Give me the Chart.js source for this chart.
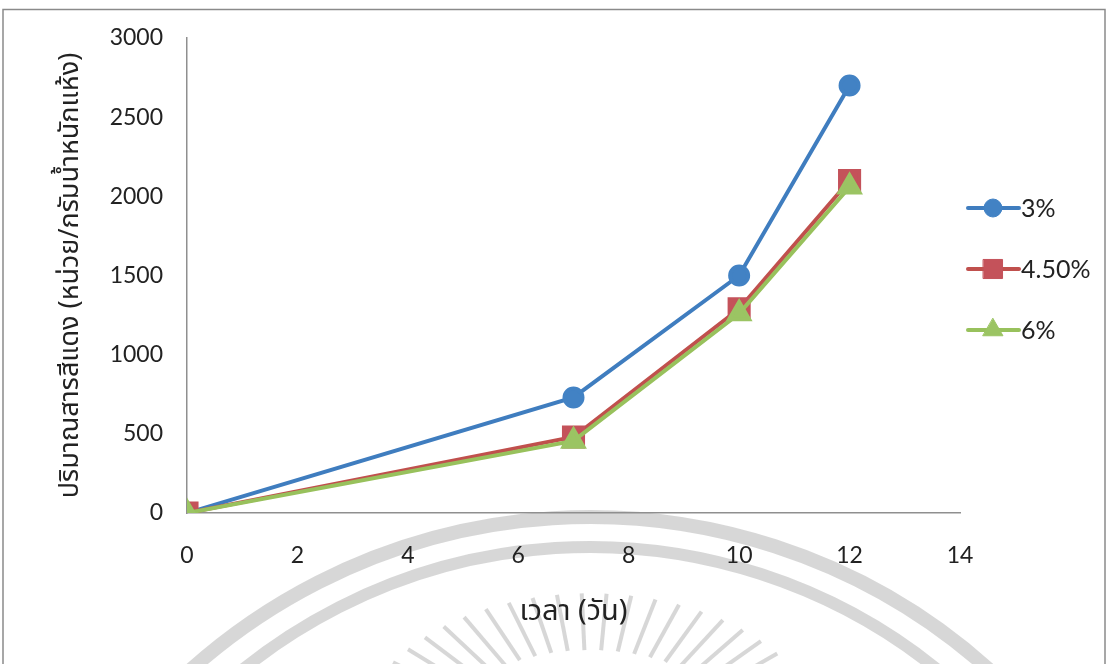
<!DOCTYPE html>
<html>
<head>
<meta charset="utf-8">
<script src="https://cdn.jsdelivr.net/npm/chart.js@4/dist/chart.umd.min.js"></script>
<style>
  html, body { margin: 0; padding: 0; background: #fff; }
  #wrap { width: 1108px; height: 664px; position: relative; }
</style>
</head>
<body>
<div id="wrap"><canvas id="myChart" width="1108" height="664"></canvas></div>
<script>
'use strict'

// days since start, and pigment amount for each salt level
const days = [0, 7, 10, 12];
const level3 = [0, 730, 1500, 2700];
const level45 = [0, 480, 1290, 2100];
const level6 = [0, 455, 1260, 2060];

const seriesNames = ['3%', '4.50%', '6%'];
const xTicks = [0, 2, 4, 6, 8, 10, 12, 14];
const yTicks = [0, 500, 1000, 1500, 2000, 2500, 3000];

const tickFont = "Lato, sans-serif";
const thaiFont = "'Noto Sans Thai', 'Noto Sans', 'DejaVu Sans', sans-serif";

function toPoints(ys){
    return days.map(function(d, i){ return {x: d, y: ys[i]}; });
}

// faint stamp arcs + sunburst in the lower half and the outer frame
const backdrop = {
    id: 'backdrop',
    beforeDraw(chart){
        const ctx = chart.ctx;
        ctx.save();
        ctx.strokeStyle = 'rgba(205,205,205,0.8)';
        ctx.lineWidth = 14;
        ctx.beginPath();
        ctx.arc(590, 1115, 598, Math.PI * 1.1, Math.PI * 1.9);
        ctx.stroke();
        ctx.lineWidth = 12;
        ctx.beginPath();
        ctx.arc(590, 1100, 553, Math.PI * 1.1, Math.PI * 1.9);
        ctx.stroke();
        ctx.lineWidth = 4;
        for (let a = 196; a <= 344; a += 6) {
            const t = a * Math.PI / 180;
            const long = (a % 12 === 0) ? 1 : 0.88;
            ctx.beginPath();
            ctx.moveTo(590 + Math.cos(t) * 160, 750 + Math.sin(t) * 100);
            ctx.lineTo(590 + Math.cos(t) * 270 * long, 750 + Math.sin(t) * 178 * long);
            ctx.stroke();
        }
        ctx.strokeStyle = '#8a8a8a';
        ctx.lineWidth = 1.5;
        ctx.strokeRect(3, 9.5, 1102, 660);
        ctx.restore();
    }
};

// legend on the right: short line with its marker, then the name
const sideLegend = {
    id: 'sideLegend',
    afterDraw(chart){
        const ctx = chart.ctx;
        const rows = [208, 269, 330];
        ctx.save();
        chart.data.datasets.forEach(function(ds, i){
            const y = rows[i];
            ctx.strokeStyle = ds.borderColor;
            ctx.lineWidth = 4;
            ctx.lineCap = 'round';
            ctx.beginPath();
            ctx.moveTo(968, y);
            ctx.lineTo(1019, y);
            ctx.stroke();
            ctx.fillStyle = ds.pointBackgroundColor;
            ctx.strokeStyle = ds.pointBorderColor;
            ctx.lineWidth = 1;
            Chart.helpers.drawPoint(ctx, {pointStyle: ds.pointStyle, rotation: 0, radius: ds.pointRadius, borderWidth: 1}, 993, y);
            ctx.fillStyle = '#222';
            ctx.font = '25px ' + tickFont;
            ctx.textBaseline = 'middle';
            ctx.fillText(seriesNames[i], 1021, y + 1);
        });
        ctx.restore();
    }
};

function makeSet(name, ys, line, fill, style, radius, order){
    return {
        label: name,
        data: toPoints(ys),
        borderColor: line,
        backgroundColor: fill,
        pointBackgroundColor: fill,
        pointBorderColor: fill,
        pointStyle: style,
        pointRadius: radius,
        borderWidth: 4,
        tension: 0,
        order: order
    };
}

const sets = [
    makeSet(seriesNames[0], level3, '#3f7dbf', '#4282c4', 'circle', 9, 2),
    makeSet(seriesNames[1], level45, '#c0504d', '#c4525a', 'rect', 13.5, 1),
    makeSet(seriesNames[2], level6, '#98c15c', '#9bc463', 'triangle', 11.5, 0)
];

const myChart = new Chart(document.getElementById('myChart'), {
    type: 'line',
    data: { datasets: sets },
    options: {
        responsive: false,
        animation: false,
        events: [],
        layout: { padding: { left: 0, right: 148, top: 38, bottom: 0 } },
        plugins: { legend: { display: false }, tooltip: { enabled: false } },
        scales: {
            x: {
                type: 'linear',
                min: 0, max: 14,
                afterFit(s){ s.height = 151; },
                afterBuildTicks(s){ s.ticks = xTicks.map(function(v){ return {value: v}; }); },
                grid: { display: false, drawTicks: false },
                border: { display: true, color: '#8f8f8f', width: 1.5 },
                ticks: { color: '#222', padding: 29, font: { family: tickFont, size: 23 },
                         callback: function(v){ return String(v); } },
                title: { display: true, text: 'เวลา (วัน)', color: '#222',
                         padding: { top: 0, bottom: 32 }, font: { family: thaiFont, size: 29 } }
            },
            y: {
                min: 0, max: 3000,
                afterFit(s){ s.width = 187; },
                afterBuildTicks(s){ s.ticks = yTicks.map(function(v){ return {value: v}; }); },
                grid: { display: false, drawTicks: false },
                border: { display: true, color: '#8f8f8f', width: 1.5 },
                ticks: { color: '#222', padding: 24, font: { family: tickFont, size: 23 },
                         callback: function(v){ return String(v); } },
                title: { display: true, text: 'ปริมาณสารสีแดง (หน่วย/กรัมน้ำหนักแห้ง)', color: '#222',
                         padding: { top: 56, bottom: 0 }, font: { family: thaiFont, size: 27 } }
            }
        }
    },
    plugins: [backdrop, sideLegend]
});
</script>
</body>
</html>
